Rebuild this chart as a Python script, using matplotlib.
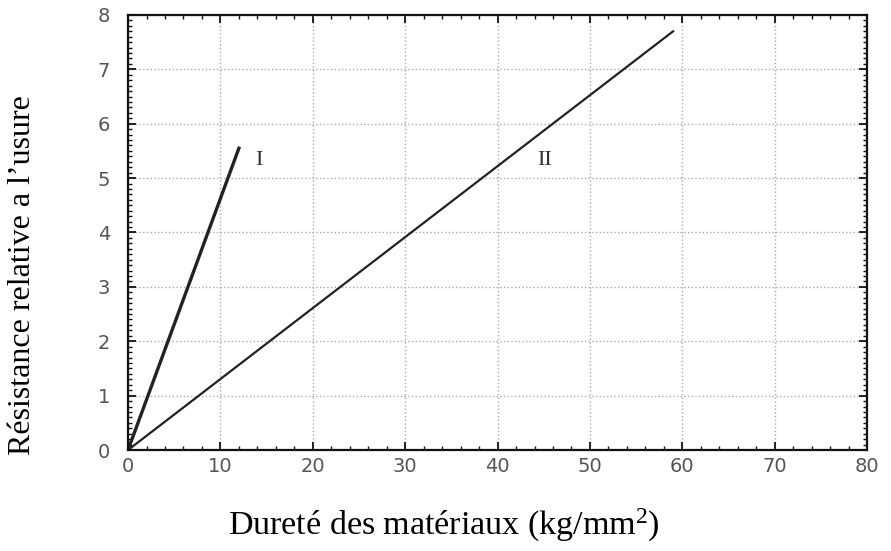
import matplotlib.pyplot as plt
from matplotlib.ticker import MultipleLocator

plt.rcParams['mathtext.fontset'] = 'custom'
plt.rcParams['mathtext.rm'] = 'Liberation Serif'
plt.rcParams['mathtext.it'] = 'Liberation Serif:italic'

# donnees
durete_I = [0, 12]
resistance_I = [0, 5.55]
durete_II = [0, 59]
resistance_II = [0, 7.7]

x_ticks = [0, 10, 20, 30, 40, 50, 60, 70, 80]
y_ticks = [0, 1, 2, 3, 4, 5, 6, 7, 8]

fig = plt.figure(figsize=(8.91, 5.51), dpi=100)
ax = fig.add_axes([0.1437, 0.1833, 0.8295, 0.7895])

ax.plot(durete_I, resistance_I, color='#222222', linewidth=2.4)
ax.plot(durete_II, resistance_II, color='#222222', linewidth=1.6)

ax.text(13.8, 5.33, 'I', fontsize=16, family='Liberation Serif', color='#333333', va='center')
ax.text(44.3, 5.33, 'II', fontsize=16, family='Liberation Serif', color='#333333', va='center')

ax.set_xlim(0, 80)
ax.set_ylim(0, 8)
ax.set_xticks(x_ticks)
ax.set_yticks(y_ticks)
ax.xaxis.set_minor_locator(MultipleLocator(2))
ax.yaxis.set_minor_locator(MultipleLocator(0.1))

ax.grid(True, which='major', linestyle=':', color='#aaaaaa', linewidth=1.0)
ax.tick_params(which='both', direction='in', top=True, right=True, color='#111111')
ax.tick_params(which='major', length=6, width=1.3, labelsize=14, labelcolor='#555555')
ax.tick_params(which='minor', length=3, width=1.0)
ax.tick_params(axis='y', which='major', pad=13)
ax.tick_params(axis='x', which='major', pad=5)
for sp in ax.spines.values():
    sp.set_linewidth(1.6)
    sp.set_color('#111111')

fig.text(0.498, 0.047, 'Dureté des matériaux (kg/mm$^2$)', ha='center', va='center',
         fontsize=24.5, family='Liberation Serif')
fig.text(0.025, 0.50, 'Résistance relative a l\u2019usure', ha='center', va='center',
         rotation=90, fontsize=23, family='Liberation Serif')

fig.savefig('out.png', dpi=100)
